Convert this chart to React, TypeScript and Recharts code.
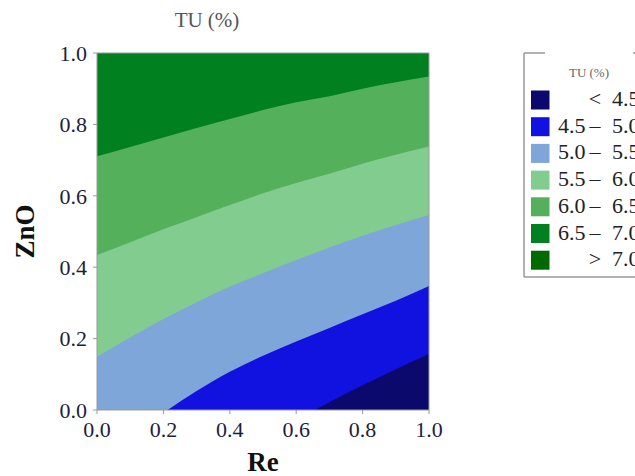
import React from 'react';
import { ComposedChart, Area, XAxis, YAxis, CartesianGrid, ReferenceLine } from 'recharts';

// Re (x) sample positions
const reValues = [0, 0.1, 0.2, 0.3, 0.4, 0.5, 0.6, 0.7, 0.8, 0.9, 1.0];
// ZnO position of each contour boundary at the Re positions above
const znoAt65 = [0.711, 0.737, 0.763, 0.79, 0.815, 0.84, 0.862, 0.879, 0.9, 0.918, 0.934];
const znoAt60 = [0.434, 0.47, 0.506, 0.54, 0.574, 0.607, 0.636, 0.662, 0.69, 0.715, 0.738];
const znoAt55 = [0.149, 0.203, 0.255, 0.302, 0.345, 0.383, 0.42, 0.455, 0.488, 0.518, 0.546];
const znoAt50 = [-0.16, -0.075, -0.008, 0.053, 0.107, 0.152, 0.192, 0.23, 0.268, 0.306, 0.347];
const znoAt45 = [-0.5, -0.43, -0.36, -0.29, -0.22, -0.1, -0.03, 0.022, 0.069, 0.114, 0.157];

const tickValues = [0, 0.2, 0.4, 0.6, 0.8, 1.0];

// Legend bands (low to high)
const bandLow = ['', '4.5', '5.0', '5.5', '6.0', '6.5', ''];
const bandSep = ['<', '–', '–', '–', '–', '–', '>'];
const bandHigh = ['4.5', '5.0', '5.5', '6.0', '6.5', '7.0', '7.0'];
const bandColors = ['#0B0A6C', '#1212E0', '#7EA6D8', '#82CC90', '#55B05C', '#00801F', '#006A00'];

const data = reValues.map((re, i) => ({
  re,
  b65: znoAt65[i],
  b60: znoAt60[i],
  b55: znoAt55[i],
  b50: znoAt50[i],
  b45: znoAt45[i],
}));

const serif = '"Liberation Serif", "Times New Roman", serif';
const tickStyle = { fill: '#1e1e3c', fontSize: 22, fontFamily: serif };

export default function App() {
  const rowY = (i: number) => 100 + i * 26.7;
  return (
    <div style={{ position: 'absolute', left: 0, top: 0, width: 635, height: 476, overflow: 'hidden', background: '#fff' }}>
      <ComposedChart
        width={635}
        height={476}
        data={data}
        margin={{ top: 53, right: 206, bottom: 3, left: 0 }}
      >
        <CartesianGrid horizontal={false} vertical={false} fill={bandColors[5]} stroke="none" />
        <XAxis
          dataKey="re"
          type="number"
          domain={[0, 1]}
          ticks={tickValues}
          tickFormatter={(v: number) => v.toFixed(1)}
          height={63}
          tickSize={4}
          tickMargin={7}
          tick={tickStyle}
          stroke="#999"
          interval={0}
          label={{ value: 'Re', position: 'insideBottom', offset: 2, style: { fontFamily: serif, fontSize: 27, fontWeight: 'bold', fill: '#111' } }}
        />
        <YAxis
          type="number"
          domain={[0, 1]}
          allowDataOverflow
          ticks={tickValues}
          tickFormatter={(v: number) => v.toFixed(1)}
          width={97}
          tickSize={4}
          tickMargin={6}
          tick={tickStyle}
          stroke="#999"
          interval={0}
          label={{ value: 'ZnO', angle: -90, position: 'insideLeft', offset: 24, style: { textAnchor: 'middle', fontFamily: serif, fontSize: 27, fontWeight: 'bold', fill: '#111' } }}
        />
        <Area dataKey="b65" type="monotone" stroke="none" fill={bandColors[4]} fillOpacity={1} baseValue={0} dot={false} activeDot={false} isAnimationActive={false} />
        <Area dataKey="b60" type="monotone" stroke="none" fill={bandColors[3]} fillOpacity={1} baseValue={0} dot={false} activeDot={false} isAnimationActive={false} />
        <Area dataKey="b55" type="monotone" stroke="none" fill={bandColors[2]} fillOpacity={1} baseValue={0} dot={false} activeDot={false} isAnimationActive={false} />
        <Area dataKey="b50" type="monotone" stroke="none" fill={bandColors[1]} fillOpacity={1} baseValue={0} dot={false} activeDot={false} isAnimationActive={false} />
        <Area dataKey="b45" type="monotone" stroke="none" fill={bandColors[0]} fillOpacity={1} baseValue={0} dot={false} activeDot={false} isAnimationActive={false} />
        <ReferenceLine y={1} stroke="#999" ifOverflow="extendDomain" />
        <ReferenceLine x={1} stroke="#999" ifOverflow="extendDomain" />
      </ComposedChart>
      <svg width={635} height={476} style={{ position: 'absolute', left: 0, top: 0, pointerEvents: 'none' }}>
        <text x={207} y={27} textAnchor="middle" fontFamily={serif} fontSize={21} fill="#555">TU (%)</text>
        <g stroke="#999" strokeWidth={1.5} fill="none">
          <line x1={524} y1={53} x2={524} y2={277} />
          <line x1={524} y1={277} x2={635} y2={277} />
          <line x1={524} y1={53} x2={545} y2={53} />
          <line x1={633} y1={53} x2={635} y2={53} />
        </g>
        <text x={589} y={77} textAnchor="middle" fontFamily={serif} fontSize={13} fill="#666">TU (%)</text>
        {bandColors.map((c, i) => (
          <g key={i}>
            <rect x={531} y={rowY(i) - 9.5} width={18.5} height={19} fill={c} />
            {bandLow[i] && (
              <text x={558} y={rowY(i) + 6} fontFamily={serif} fontSize={22} fill="#222">{bandLow[i]}</text>
            )}
            <text x={595} y={rowY(i) + 6} textAnchor="middle" fontFamily={serif} fontSize={22} fill="#222">{bandSep[i]}</text>
            <text x={612} y={rowY(i) + 6} fontFamily={serif} fontSize={22} fill="#222">{bandHigh[i]}</text>
          </g>
        ))}
      </svg>
    </div>
  );
}
